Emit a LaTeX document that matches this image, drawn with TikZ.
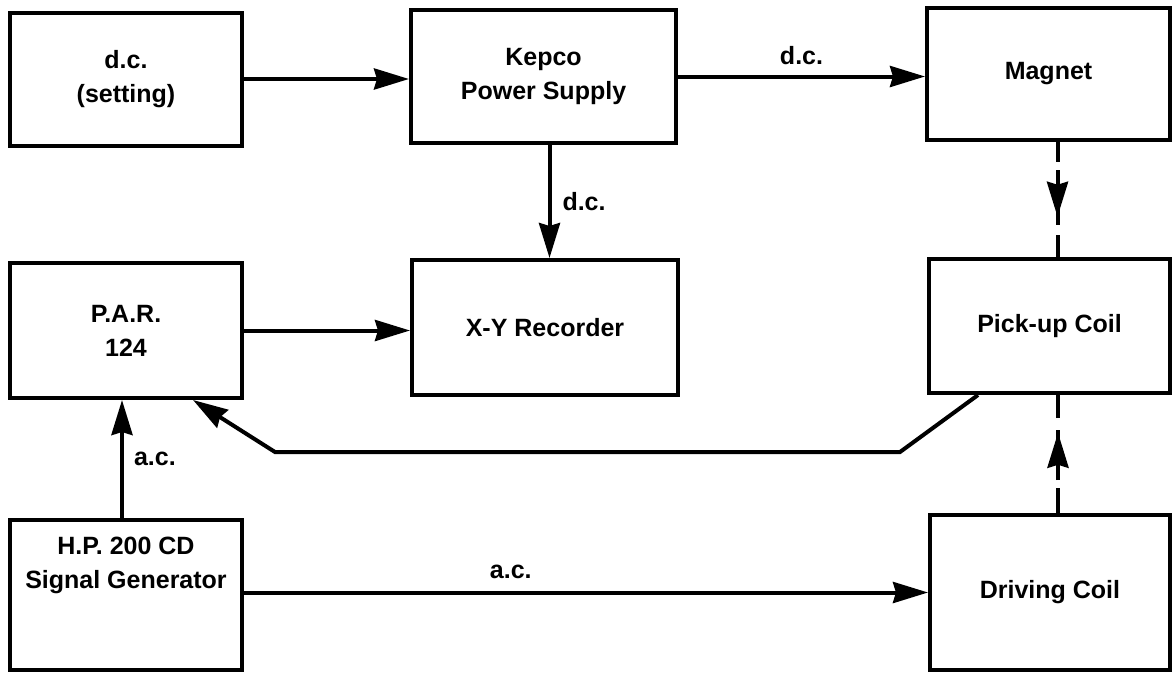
\documentclass[tikz,border=0pt]{standalone}
\usepackage{fontspec}
\setmainfont{Liberation Sans}
\usetikzlibrary{arrows.meta,decorations.markings}

\begin{document}
\begin{tikzpicture}[x=1pt,y=-1pt,
    every node/.style={font=\bfseries\fontsize{25}{34}\selectfont},
    blockbox/.style={draw, line width=4pt, align=center, inner sep=0pt},
    flow/.style={line width=4pt, -{Stealth[length=35pt,width=21pt,inset=3pt]}},
    fieldlink/.style={line width=4pt, postaction={decorate},
      decoration={markings, mark=at position #1 with {\arrow{Stealth[length=35pt,width=21pt,inset=3pt]}}}},
    tag/.style={inner sep=2pt}]
  \useasboundingbox (0,0) rectangle (1172,672);

  % Top row
  \node[blockbox, minimum width=232pt, minimum height=133pt] (dcset) at (126,79) {d.c.\\(setting)};
  \node[blockbox, minimum width=265pt, minimum height=133pt] (kepco) at (543.5,76.5) {Kepco\\Power Supply};
  \node[blockbox, minimum width=243pt, minimum height=132pt] (magnet) at (1048.5,74) {Magnet};

  % Middle row
  \node[blockbox, minimum width=232pt, minimum height=135pt] (par) at (126,330.5) {P.A.R.\\124};
  \node[blockbox, minimum width=266pt, minimum height=135pt] (xy) at (545,327.5) {X-Y Recorder};
  \node[blockbox, minimum width=241pt, minimum height=134pt] (pickup) at (1049.5,326) {Pick-up Coil};

  % Bottom row
  \node[blockbox, minimum width=232pt, minimum height=150pt] (hp) at (126,595) {};
  \node[align=center] (hptext) at (126,565) {H.P. 200 CD\\Signal Generator};
  \node[blockbox, minimum width=240pt, minimum height=155pt] (driving) at (1050,592.5) {Driving Coil};

  % d.c. connections
  \draw[flow] (dcset) -- (dcset -| kepco.west);
  \draw[flow] (kepco) -- (kepco -| magnet.west) node[tag, midway, above=8pt] {d.c.};
  \draw[flow] ([xshift=6pt]kepco.south) -- ([xshift=6pt]kepco.south |- xy.north) node[tag, midway, right=9pt] {d.c.};
  \draw[flow] (par.east) -- (par.east -| xy.west);

  % a.c. connections
  \draw[flow] ([xshift=-4pt]hp.north) -- ([xshift=-4pt]par.south) node[tag, midway, right=8pt] {a.c.};
  \draw[flow] (driving.west -| hp.east) -- (driving.west) node[tag, pos=0.39, above=10pt] {a.c.};

  % Pick-up signal back to the P.A.R.
  \coordinate (fbright) at (900,452);
  \coordinate (fbleft) at (275,452);
  \draw[flow] ([xshift=51pt]pickup.south west) -- (fbright) -- (fbleft) -- ([xshift=185pt]par.south west);

  % Field coupling (dashed)
  \draw[fieldlink=0.65, dash pattern=on 20pt off 8pt on 55pt off 10pt on 40pt]
    ([xshift=9pt]magnet.south) -- ([xshift=9pt]magnet.south |- pickup.north);
  \draw[fieldlink=0.68, dash pattern=on 25pt off 8pt on 50pt off 12pt on 40pt]
    ([xshift=8pt]driving.north) -- ([xshift=8pt]driving.north |- pickup.south);
\end{tikzpicture}
\end{document}
